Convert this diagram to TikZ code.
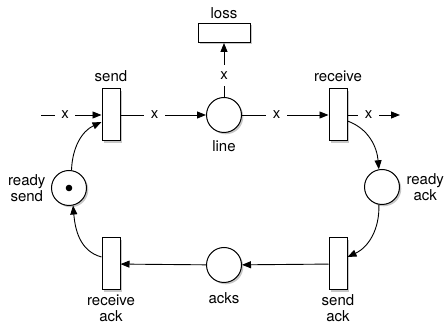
\documentclass[tikz,border=0pt]{standalone}
\usepackage{fontspec}
\setmainfont{TeX Gyre Heros}
\usetikzlibrary{arrows.meta,shadows}

\tikzset{
  shade/.style={drop shadow={shadow xshift=1.8pt,shadow yshift=-1.8pt,fill=black,opacity=0.22}},
  place/.style={draw,circle,fill=white,minimum size=35pt,inner sep=0pt,line width=1pt,shade},
  transition/.style={draw,rectangle,fill=white,minimum width=18pt,minimum height=52pt,inner sep=0pt,line width=1pt,shade},
  hbar/.style={draw,rectangle,fill=white,minimum width=52pt,minimum height=19pt,inner sep=0pt,line width=1pt,shade},
  arc/.style={->,line width=0.9pt},
  var/.style={fill=white,inner sep=6.5pt,pos=0.4}
}

\begin{document}
\begin{tikzpicture}[x=1pt,y=1pt,>={Triangle[length=9pt,width=7pt]},font=\fontsize{15}{16}\selectfont]
\useasboundingbox (0,0) rectangle (445,326);
\node[transition,label={[label distance=3pt]above:send}] (send) at (111,211) {};
\node[place,label={[label distance=4pt]below:line}] (line) at (224,211) {};
\node[transition,label={[label distance=3pt]above:receive}] (receive) at (338,211) {};
\node[hbar,label={[label distance=1pt]above:loss}] (loss) at (224,293) {};
\node[place,label={[label distance=2pt,align=center]left:ready\\send}] (readysend) at (69,138) {};
\node[place,label={[label distance=3pt,align=center]right:ready\\ack}] (readyack) at (382,139) {};
\node[transition,label={[label distance=1pt,align=center]below:receive\\ack}] (receiveack) at (111,62) {};
\node[place,label={[label distance=6pt]below:acks}] (acks) at (224,61) {};
\node[transition,label={[label distance=1pt,align=center]below:send\\ack}] (sendack) at (338,62) {};
\fill (readysend.center) circle (3.3pt);
\coordinate (src) at (41,211);
\coordinate (sink) at (400,211);

% message channel
\draw[arc] (src) -- (send) node[var]{x};
\draw[arc] (send) -- (line) node[var]{x};
\draw[arc] (line) -- (receive) node[var]{x};
\draw[arc] (receive) -- (sink) node[var]{x};
\draw[arc] (line) -- (loss) node[var]{x};

% acknowledgement cycle
\draw[arc] ([yshift=-6pt]receive.east) to[out=-20,in=95] (readyack.100);
\draw[arc] (readyack.260) to[out=-88,in=25] ([yshift=7pt]sendack.east);
\draw[arc] (sendack) -- (acks);
\draw[arc] (acks) -- (receiveack);
\draw[arc] ([yshift=7pt]receiveack.west) to[out=165,in=-85] (readysend.283);
\draw[arc] (readysend.82) to[out=88,in=205] ([yshift=-7pt]send.west);
\end{tikzpicture}
\end{document}
